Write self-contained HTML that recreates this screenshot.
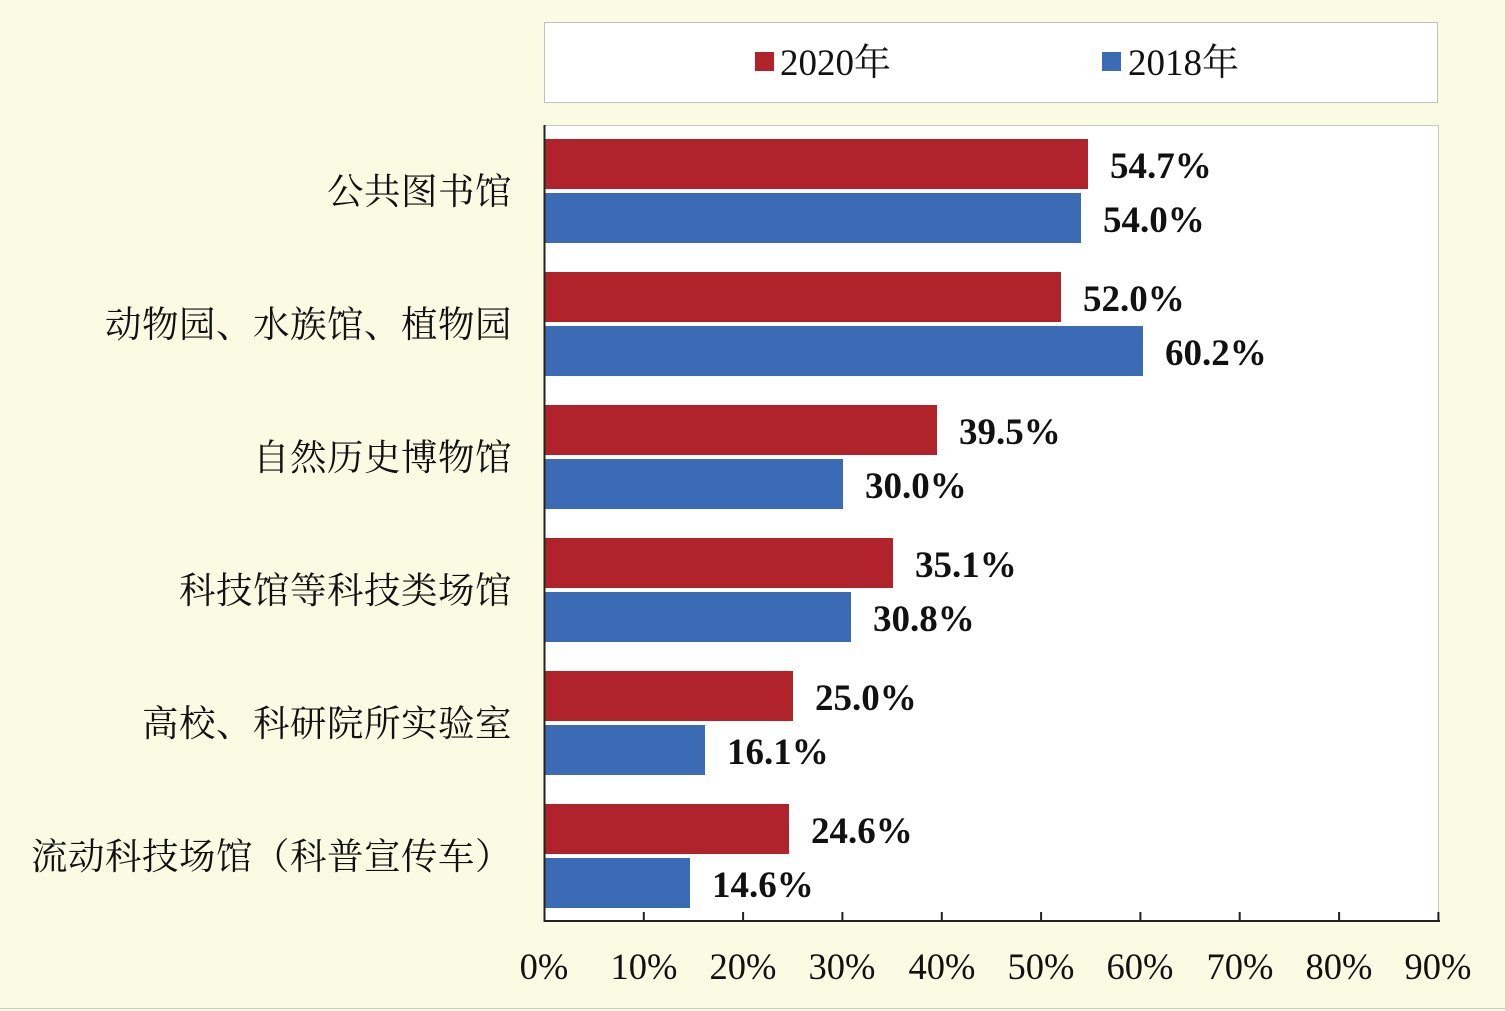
<!DOCTYPE html>
<html><head><meta charset="utf-8"><style>
html,body{margin:0;padding:0;background:#fbfbe3;}
svg{display:block}
.s{font-family:"Liberation Serif","Noto Serif CJK SC",serif;}
</style></head><body>
<svg width="1505" height="1011" xmlns="http://www.w3.org/2000/svg">
<rect x="0" y="0" width="1505" height="1011" fill="#fbfbe3"/>
<line x1="0" y1="1008.5" x2="1505" y2="1008.5" stroke="#c8c8c8" stroke-width="1"/>
<rect x="544.5" y="22.5" width="893" height="80" fill="#fff" stroke="#c0c0c0"/>
<rect x="755" y="52" width="19" height="19" fill="#b0232b"/>
<text x="780" y="75" class="s" font-size="37" fill="#111">2020年</text>
<rect x="1102" y="52" width="19" height="19" fill="#3a6bb4"/>
<text x="1128" y="75" class="s" font-size="37" fill="#111">2018年</text>
<rect x="544.5" y="125.5" width="894" height="796" fill="#fff" stroke="#c8c8c8"/>
<g fill="#b0232b">
<rect x="545" y="139" width="543" height="50"/>
<rect x="545" y="272" width="516" height="50"/>
<rect x="545" y="405" width="392" height="50"/>
<rect x="545" y="538" width="348" height="50"/>
<rect x="545" y="671" width="248" height="50"/>
<rect x="545" y="804" width="244" height="50"/>
</g>
<g fill="#3a6bb4">
<rect x="545" y="193" width="536" height="50"/>
<rect x="545" y="326" width="598" height="50"/>
<rect x="545" y="459" width="298" height="50"/>
<rect x="545" y="592" width="306" height="50"/>
<rect x="545" y="725" width="160" height="50"/>
<rect x="545" y="858" width="145" height="50"/>
</g>
<g class="s" font-size="37" font-weight="bold" fill="#111">
<text x="1110" y="178">54.7%</text>
<text x="1103" y="232">54.0%</text>
<text x="1083" y="311">52.0%</text>
<text x="1165" y="365">60.2%</text>
<text x="959" y="444">39.5%</text>
<text x="865" y="498">30.0%</text>
<text x="915" y="577">35.1%</text>
<text x="873" y="631">30.8%</text>
<text x="815" y="710">25.0%</text>
<text x="727" y="764">16.1%</text>
<text x="811" y="843">24.6%</text>
<text x="712" y="897">14.6%</text>
</g>
<g class="s" font-size="36.5" fill="#111" text-anchor="end" letter-spacing="0.5">
<text x="512" y="204">公共图书馆</text>
<text x="512" y="337">动物园、水族馆、植物园</text>
<text x="512" y="470">自然历史博物馆</text>
<text x="512" y="603">科技馆等科技类场馆</text>
<text x="512" y="736">高校、科研院所实验室</text>
<text x="512" y="869">流动科技场馆（科普宣传车）</text>
</g>
<line x1="544.5" y1="125" x2="544.5" y2="922" stroke="#222" stroke-width="2"/>
<line x1="544" y1="921" x2="1440" y2="921" stroke="#222" stroke-width="2"/>
<g stroke="#222" stroke-width="2">
<line x1="643.8" y1="912" x2="643.8" y2="921"/>
<line x1="743.1" y1="912" x2="743.1" y2="921"/>
<line x1="842.4" y1="912" x2="842.4" y2="921"/>
<line x1="941.8" y1="912" x2="941.8" y2="921"/>
<line x1="1041.1" y1="912" x2="1041.1" y2="921"/>
<line x1="1140.4" y1="912" x2="1140.4" y2="921"/>
<line x1="1239.7" y1="912" x2="1239.7" y2="921"/>
<line x1="1339.1" y1="912" x2="1339.1" y2="921"/>
<line x1="1438.4" y1="912" x2="1438.4" y2="921"/>
</g>
<g class="s" font-size="36.5" fill="#111" text-anchor="middle">
<text x="544" y="979">0%</text>
<text x="644" y="979">10%</text>
<text x="743" y="979">20%</text>
<text x="842" y="979">30%</text>
<text x="942" y="979">40%</text>
<text x="1041" y="979">50%</text>
<text x="1140" y="979">60%</text>
<text x="1240" y="979">70%</text>
<text x="1339" y="979">80%</text>
<text x="1438" y="979">90%</text>
</g>
</svg>
</body></html>
